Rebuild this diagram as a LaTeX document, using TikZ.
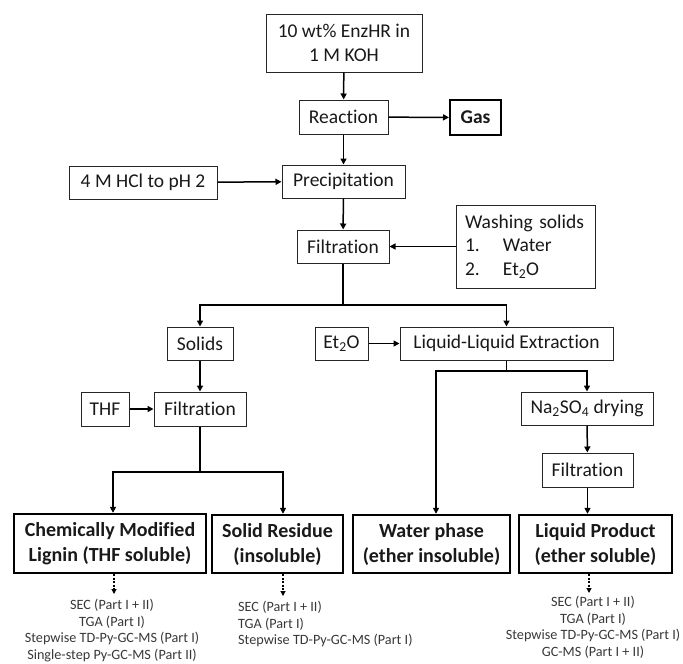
\documentclass[tikz,border=0pt]{standalone}
\usepackage{fontspec}
\setmainfont{Carlito}[Ligatures=NoCommon]
\usetikzlibrary{arrows.meta}
\begin{document}
\begin{tikzpicture}[x=1pt,y=-1pt,
  box/.style={draw=black!85, line width=1pt, inner sep=0pt, align=center, text=black!90, font=\fontsize{19.5}{23.5}\selectfont},
  bbox/.style={draw=black, line width=2.4pt, inner sep=0pt, align=center, text=black!90, font=\fontsize{20}{25}\selectfont\bfseries},
  arr/.style={line width=1.5pt, -{Triangle[length=6pt,width=6pt]}},
  ln/.style={line width=1.5pt},
  darr/.style={line width=1.1pt, dash pattern=on 2pt off 1.5pt, -{Triangle[length=5pt,width=5pt]}},
  lst/.style={font=\fontsize{14.2}{16.6}\selectfont, text=black!78, inner sep=0pt}
]
\useasboundingbox (0,0) rectangle (683,664);

\node[box, minimum width=156pt, minimum height=58pt] (top) at (344,43) {10 wt\% EnzHR in\\1 M KOH};
\node[box, minimum width=89pt, minimum height=34pt] (reac) at (343.5,117) {Reaction};
\node[bbox, line width=2pt, font=\fontsize{19.5}{23.5}\selectfont\bfseries, minimum width=51pt, minimum height=35pt] (gas) at (475.5,117.5) {Gas};
\node[box, minimum width=123pt, minimum height=33pt] (prec) at (343.5,181.5) {Precipitation};
\node[box, minimum width=148pt, minimum height=33pt] (hcl) at (143,182.5) {4 M HCl to pH 2};
\node[box, minimum width=92pt, minimum height=33pt] (filt1) at (343,246.5) {Filtration};
\node[box, minimum width=139pt, minimum height=83pt, text width=121pt, align=left] (wash) at (525.5,246.5)
  {Washing solids\\\makebox[38pt][l]{1.}Water\\\makebox[38pt][l]{2.}Et\textsubscript{2}O};
\node[box, minimum width=66pt, minimum height=33pt] (solids) at (200,343.5) {Solids};
\node[box, minimum width=53pt, minimum height=33pt] (et) at (341.5,343.5) {Et\textsubscript{2}O};
\node[box, minimum width=213pt, minimum height=33pt] (lle) at (506.5,343.5) {Liquid-Liquid Extraction};
\node[box, minimum width=48pt, minimum height=34pt] (thf) at (105,409) {THF};
\node[box, minimum width=92pt, minimum height=34pt] (filt2) at (200,409) {Filtration};
\node[box, minimum width=132pt, minimum height=33pt] (na) at (587,408.5) {Na\textsubscript{2}SO\textsubscript{4} drying};
\node[box, minimum width=91pt, minimum height=34pt] (filt3) at (587.5,470) {Filtration};
\node[bbox, minimum width=192pt, minimum height=59pt] (chem) at (110,543.5) {Chemically Modified\\Lignin (THF soluble)};
\node[bbox, minimum width=131pt, minimum height=58pt] (res) at (277.5,544) {Solid Residue\\(insoluble)};
\node[bbox, minimum width=157pt, minimum height=58pt] (water) at (431.5,544) {Water phase\\(ether insoluble)};
\node[bbox, minimum width=153pt, minimum height=58pt] (liq) at (595.5,544) {Liquid Product\\(ether soluble)};

\draw[arr] (top) -- (reac);
\draw[arr] (reac) -- (gas);
\draw[arr] (reac) -- (prec);
\draw[arr] (hcl) -- (prec);
\draw[arr] (prec) -- (filt1);
\draw[arr] (wash) -- (filt1);
\coordinate (j1) at (343,305);
\draw[ln] (filt1) -- (j1);
\draw[arr] (j1) -| (solids.north);
\draw[arr] (j1) -| (lle.north);
\draw[arr] (et) -- (lle);
\draw[arr] (solids) -- (filt2);
\draw[arr] (thf) -- (filt2);
\coordinate (j2) at (200,472);
\draw[ln] (filt2) -- (j2);
\draw[arr] (j2) -| ([xshift=3pt]chem.north);
\draw[arr] (j2) -| ([xshift=5.5pt]res.north);
\coordinate (j3) at (506.5,371);
\draw[ln] (lle) -- (j3);
\draw[arr] (j3) -| ([xshift=4.5pt]water.north);
\draw[arr] (j3) -| (na.north);
\draw[arr] (na) -- (filt3);
\draw[arr] (filt3.south) -- (filt3.south |- liq.north);

\coordinate (e1) at (114,594);
\coordinate (e2) at (283,596);
\coordinate (e3) at (589,593);
\draw[darr] (chem.south -| e1) -- (e1);
\draw[darr] (res.south -| e2) -- (e2);
\draw[darr] (liq.south -| e3) -- (e3);

\node[lst, align=center, anchor=north] (l1) at (112,599)
  {SEC (Part I + II)\\TGA (Part I)\\Stepwise TD-Py-GC-MS (Part I)\\Single-step Py-GC-MS (Part II)};
\node[lst, align=left, anchor=north west] (l2) at (238,601)
  {SEC (Part I + II)\\TGA (Part I)\\Stepwise TD-Py-GC-MS (Part I)};
\node[lst, align=center, anchor=north] (l3) at (593,596)
  {SEC (Part I + II)\\TGA (Part I)\\Stepwise TD-Py-GC-MS (Part I)\\GC-MS (Part I + II)};
\end{tikzpicture}
\end{document}
